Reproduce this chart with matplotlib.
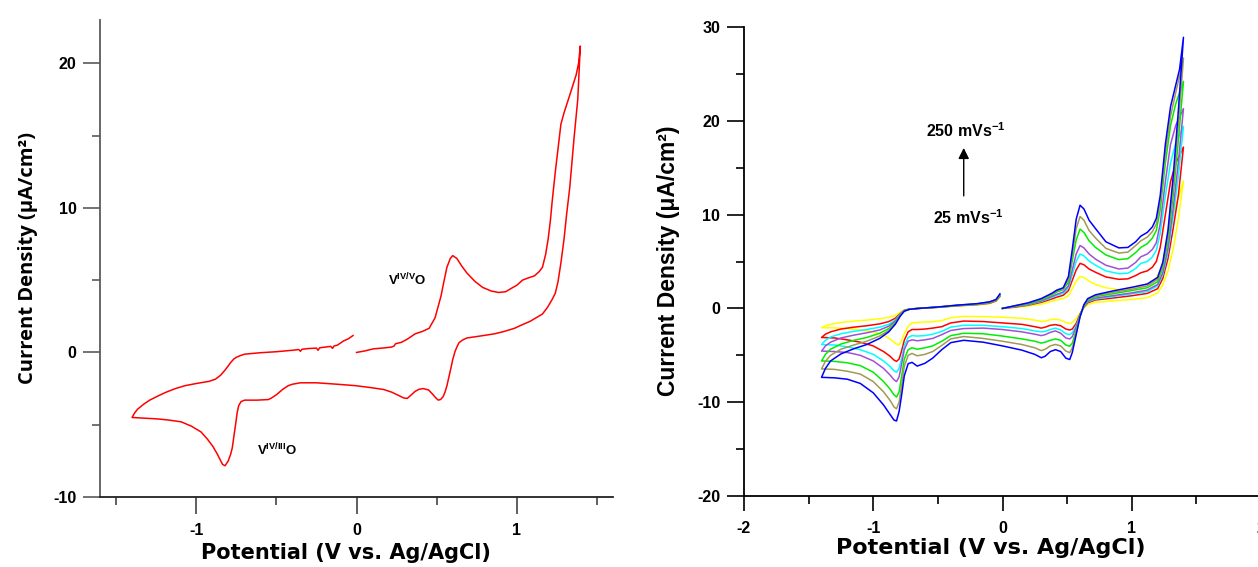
import matplotlib
matplotlib.use('Agg')
import matplotlib.pyplot as plt

plt.rcParams['mathtext.fontset'] = 'custom'
plt.rcParams['mathtext.bf'] = 'Liberation Sans:bold'
plt.rcParams['mathtext.rm'] = 'Liberation Sans'
plt.rcParams['mathtext.it'] = 'Liberation Sans:italic'
plt.rcParams['axes.unicode_minus'] = False

# ---------------- Left panel data (single CV, red) ----------------
left_v = [0.0, 0.05, 0.106, 0.16, 0.218, 0.235, 0.243, 0.28, 0.317, 0.366, 0.41, 0.453, 0.49, 0.51, 0.527,
          0.545, 0.564, 0.585, 0.6, 0.626, 0.655, 0.688, 0.74, 0.787, 0.84, 0.886, 0.93, 0.96, 1.0, 1.035,
          1.07, 1.11, 1.14, 1.16, 1.18, 1.196, 1.21, 1.22, 1.24, 1.26, 1.275, 1.295, 1.33, 1.37, 1.385, 1.396,
          1.38, 1.357, 1.33, 1.31, 1.295, 1.275, 1.257, 1.24, 1.22, 1.19, 1.16, 1.12, 1.084, 1.03, 0.985,
          0.92, 0.861, 0.78, 0.688, 0.66, 0.639, 0.625, 0.614, 0.6, 0.589, 0.576, 0.564, 0.552, 0.54, 0.525,
          0.51, 0.495, 0.478, 0.45, 0.416, 0.39, 0.366, 0.34, 0.317, 0.295, 0.267, 0.22, 0.168, 0.08, -0.005,
          -0.12, -0.25, -0.35, -0.4, -0.426, -0.46, -0.5, -0.53, -0.55, -0.62, -0.698, -0.72, -0.735, -0.745,
          -0.752, -0.765, -0.775, -0.785, -0.8, -0.82, -0.835, -0.847, -0.87, -0.896, -0.93, -0.97, -1.03,
          -1.094, -1.17, -1.24, -1.32, -1.4,
          -1.385, -1.366, -1.33, -1.29, -1.24, -1.19, -1.13, -1.07, -1.0, -0.92, -0.88, -0.847, -0.815, -0.785,
          -0.765, -0.747, -0.72, -0.698, -0.6, -0.5, -0.4, -0.36, -0.35, -0.34, -0.3, -0.25, -0.24, -0.23,
          -0.16, -0.15, -0.14, -0.12, -0.08, -0.05, -0.022]
left_i = [0.0, 0.1, 0.25, 0.3, 0.37, 0.45, 0.6, 0.7, 0.92, 1.29, 1.45, 1.67, 2.4, 3.2, 3.9,
          4.9, 5.9, 6.5, 6.7, 6.5, 6.0, 5.5, 4.9, 4.5, 4.25, 4.15, 4.2, 4.4, 4.65, 5.0,
          5.15, 5.3, 5.6, 5.9, 6.8, 7.9, 9.2, 10.4, 12.5, 14.35, 15.8, 16.6, 17.8, 19.2, 20.0, 21.2,
          17.5, 14.85, 11.4, 9.5, 7.9, 6.2, 4.9, 4.1, 3.66, 3.1, 2.66, 2.4, 2.16, 1.9, 1.67,
          1.45, 1.29, 1.15, 1.0, 0.85, 0.67, 0.35, 0.05, -0.5, -1.07, -1.7, -2.3, -2.75, -3.06, -3.25,
          -3.3, -3.15, -2.93, -2.6, -2.5, -2.55, -2.69, -2.95, -3.18, -3.15, -3.0, -2.75, -2.56, -2.42, -2.3,
          -2.2, -2.1, -2.1, -2.2, -2.3, -2.55, -2.93, -3.15, -3.26, -3.3, -3.3, -3.4, -3.68, -4.2,
          -4.8, -5.8, -6.6, -7.04, -7.5, -7.84, -7.75, -7.5, -7.0, -6.5, -6.0, -5.5, -5.1,
          -4.8, -4.68, -4.6, -4.55, -4.5,
          -4.2, -3.93, -3.6, -3.3, -3.02, -2.76, -2.5, -2.3, -2.15, -2.0, -1.85, -1.57, -1.15, -0.7,
          -0.45, -0.32, -0.2, -0.12, -0.02, 0.05, 0.15, 0.2, 0.08, 0.22, 0.27, 0.3, 0.15, 0.32,
          0.42, 0.28, 0.45, 0.5, 0.8, 0.95, 1.17]

# ---------------- Right panel data (scan-rate series) ----------------
fwd_v = [0.0, 0.1, 0.2, 0.3, 0.38, 0.42, 0.47, 0.51, 0.54, 0.57, 0.6, 0.63, 0.67, 0.72, 0.8, 0.9,
         0.97, 1.03, 1.07, 1.12, 1.16, 1.19, 1.22, 1.26, 1.3, 1.34, 1.37, 1.4]
rev_v = [1.4, 1.36, 1.32, 1.28, 1.24, 1.2, 1.12, 1.0, 0.85, 0.72, 0.66, 0.63, 0.6, 0.57, 0.54, 0.52,
         0.49, 0.45, 0.41, 0.37, 0.33, 0.3, 0.25, 0.15, 0.0, -0.15, -0.3, -0.4, -0.47, -0.54, -0.6,
         -0.66, -0.7, -0.73, -0.76, -0.78, -0.8, -0.82, -0.84, -0.87, -0.92, -1.0, -1.1, -1.2, -1.3, -1.4]
ret_v = [-1.4, -1.37, -1.33, -1.25, -1.15, -1.05, -0.95, -0.88, -0.83, -0.79, -0.76, -0.72, -0.65,
         -0.5, -0.35, -0.2, -0.1, -0.05, -0.02]

yellow_fwd = [0.0, 0.1, 0.25, 0.45, 0.75, 0.9, 1.05, 1.35, 2.1, 2.9, 3.4, 3.3, 2.9, 2.55, 2.2, 2.0,
              2.05, 2.25, 2.4, 2.6, 2.9, 3.3, 4.0, 5.8, 8.5, 11.0, 12.3, 13.6]
red_fwd = [0.0, 0.15, 0.35, 0.65, 1.0, 1.2, 1.4, 1.9, 3.0, 4.1, 4.8, 4.65, 4.2, 3.85, 3.35, 3.1,
           3.15, 3.5, 3.8, 4.0, 4.4, 5.0, 6.5, 10.0, 13.5, 15.5, 16.3, 17.2]
cyan_fwd = [0.0, 0.2, 0.4, 0.75, 1.15, 1.4, 1.6, 2.2, 3.6, 5.0, 5.8, 5.6, 5.05, 4.6, 4.0, 3.7,
            3.75, 4.25, 4.8, 5.0, 5.5, 6.2, 8.0, 12.0, 15.5, 17.6, 18.5, 19.4]
purple_fwd = [0.0, 0.2, 0.45, 0.8, 1.25, 1.5, 1.75, 2.4, 4.1, 5.8, 6.7, 6.45, 5.8, 5.25, 4.6, 4.2,
              4.3, 4.9, 5.5, 5.8, 6.3, 7.0, 9.0, 13.5, 17.5, 19.5, 20.4, 21.3]
green_fwd = [0.0, 0.25, 0.5, 0.9, 1.4, 1.75, 2.0, 2.8, 5.1, 7.3, 8.45, 8.1, 7.2, 6.5, 5.7, 5.2,
             5.3, 5.95, 6.5, 6.9, 7.5, 8.3, 10.5, 15.5, 19.5, 21.8, 23.0, 24.2]
olive_fwd = [0.0, 0.28, 0.55, 1.0, 1.5, 1.9, 2.1, 3.1, 5.7, 8.5, 9.8, 9.4, 8.3, 7.5, 6.4, 5.9,
             6.0, 6.7, 7.2, 7.6, 8.2, 9.0, 11.3, 16.5, 20.5, 23.0, 24.8, 26.7]
blue_fwd = [0.0, 0.3, 0.6, 1.05, 1.6, 1.95, 2.2, 3.4, 6.3, 9.5, 11.0, 10.6, 9.4, 8.5, 7.1, 6.45,
            6.5, 7.1, 7.7, 8.1, 8.7, 9.6, 12.0, 17.5, 21.5, 23.8, 25.5, 28.9]

yellow_rev = [13.6, 9.5, 6.3, 4.0, 2.5, 1.65, 1.15, 0.95, 0.8, 0.65, 0.4, 0.05, -0.5, -1.1, -1.5, -1.62,
              -1.5, -1.25, -1.15, -1.2, -1.35, -1.4, -1.25, -1.05, -0.95, -0.88, -0.85, -1.0, -1.3, -1.42,
              -1.45, -1.5, -1.55, -1.9, -2.7, -3.4, -3.9, -3.8, -3.6, -3.25, -2.85, -2.5, -2.3, -2.15,
              -2.08, -2.05]
red_rev = [17.2, 12.0, 8.5, 5.3, 3.2, 2.1, 1.6, 1.35, 1.1, 0.9, 0.6, 0.15, -0.6, -1.6, -2.2, -2.3,
           -2.2, -1.85, -1.73, -1.8, -2.0, -2.1, -1.95, -1.7, -1.55, -1.4, -1.35, -1.55, -1.95, -2.1,
           -2.2, -2.25, -2.25, -2.5, -3.4, -4.5, -5.4, -5.65, -5.5, -5.1, -4.6, -4.0, -3.6, -3.35,
           -3.15, -3.1]
cyan_rev = [19.4, 14.0, 9.8, 6.0, 3.6, 2.4, 1.8, 1.55, 1.25, 1.0, 0.7, 0.2, -0.7, -1.85, -2.6, -2.8,
            -2.7, -2.3, -2.1, -2.25, -2.45, -2.5, -2.4, -2.15, -1.95, -1.8, -1.8, -2.0, -2.45, -2.75,
            -2.9, -2.95, -2.9, -3.1, -4.0, -5.3, -6.4, -6.8, -6.65, -6.2, -5.6, -4.9, -4.4, -4.1,
            -3.9, -3.85]
purple_rev = [21.3, 15.5, 10.6, 6.4, 3.8, 2.55, 1.95, 1.65, 1.35, 1.1, 0.75, 0.25, -0.75, -2.0, -3.0,
              -3.26, -3.15, -2.65, -2.4, -2.55, -2.8, -2.9, -2.75, -2.5, -2.25, -2.1, -2.15, -2.35,
              -2.8, -3.2, -3.35, -3.45, -3.35, -3.5, -4.4, -5.9, -7.3, -7.8, -7.6, -7.1, -6.4, -5.6,
              -5.0, -4.7, -4.6, -4.55]
green_rev = [24.2, 17.8, 12.0, 7.2, 4.3, 2.85, 2.2, 1.9, 1.55, 1.25, 0.85, 0.3, -0.8, -2.35, -3.7,
             -4.03, -3.9, -3.4, -3.26, -3.4, -3.6, -3.7, -3.5, -3.25, -2.95, -2.7, -2.65, -2.9, -3.5,
             -4.0, -4.2, -4.35, -4.2, -4.4, -5.4, -7.2, -8.9, -9.45, -9.2, -8.6, -7.8, -6.8, -6.1,
             -5.8, -5.65, -5.6]
olive_rev = [26.7, 19.5, 13.0, 7.8, 4.6, 3.1, 2.4, 2.05, 1.7, 1.35, 0.95, 0.35, -0.85, -2.55, -4.2,
             -4.72, -4.55, -4.0, -3.84, -4.0, -4.35, -4.5, -4.2, -3.85, -3.5, -3.2, -3.0, -3.25, -3.95,
             -4.6, -4.9, -5.05, -4.8, -5.0, -6.2, -8.2, -10.0, -10.7, -10.5, -9.8, -8.9, -7.8, -7.0,
             -6.7, -6.5, -6.45]
blue_rev = [28.9, 21.0, 14.0, 8.3, 4.9, 3.3, 2.6, 2.25, 1.85, 1.45, 1.05, 0.4, -0.9, -2.8, -4.7,
            -5.45, -5.3, -4.6, -4.4, -4.6, -5.1, -5.26, -4.9, -4.45, -4.0, -3.6, -3.4, -3.65, -4.4,
            -5.3, -5.85, -6.15, -5.75, -5.9, -7.2, -9.2, -11.0, -12.0, -11.9, -11.3, -10.3, -9.0,
            -8.0, -7.55, -7.4, -7.35]

yellow_ret = [-2.05, -1.85, -1.7, -1.5, -1.35, -1.25, -1.1, -0.95, -0.75, -0.4, -0.15, -0.05, 0.0,
              0.1, 0.25, 0.35, 0.5, 0.75, 1.2]
red_ret = [-3.1, -2.75, -2.5, -2.2, -2.0, -1.85, -1.65, -1.4, -1.05, -0.55, -0.2, -0.07, 0.0,
           0.12, 0.28, 0.4, 0.55, 0.8, 1.3]
cyan_ret = [-3.85, -3.4, -3.05, -2.7, -2.45, -2.25, -2.0, -1.7, -1.25, -0.6, -0.22, -0.08, 0.0,
            0.12, 0.3, 0.42, 0.6, 0.85, 1.35]
purple_ret = [-4.55, -4.0, -3.6, -3.15, -2.85, -2.6, -2.3, -1.9, -1.35, -0.65, -0.24, -0.08, 0.0,
              0.13, 0.3, 0.45, 0.62, 0.88, 1.4]
green_ret = [-5.6, -4.9, -4.35, -3.8, -3.4, -3.1, -2.65, -2.15, -1.5, -0.7, -0.27, -0.09, 0.0,
             0.14, 0.32, 0.47, 0.65, 0.9, 1.45]
olive_ret = [-6.45, -5.65, -5.0, -4.35, -3.9, -3.5, -2.95, -2.35, -1.6, -0.75, -0.28, -0.1, 0.0,
             0.15, 0.34, 0.48, 0.68, 0.92, 1.5]
blue_ret = [-7.35, -6.4, -5.6, -4.85, -4.3, -3.85, -3.2, -2.5, -1.7, -0.8, -0.3, -0.1, 0.0,
            0.15, 0.35, 0.5, 0.7, 0.95, 1.55]

series_names = ['25', '50', '75', '100', '150', '200', '250']
series_colors = ['#ffff00', '#ff0000', '#00ffff', '#a050d8', '#00ee00', '#a09a55', '#0000ff']
series = [(yellow_fwd, yellow_rev, yellow_ret), (red_fwd, red_rev, red_ret),
          (cyan_fwd, cyan_rev, cyan_ret), (purple_fwd, purple_rev, purple_ret),
          (green_fwd, green_rev, green_ret), (olive_fwd, olive_rev, olive_ret),
          (blue_fwd, blue_rev, blue_ret)]

# ---------------- Figure ----------------
fig = plt.figure(figsize=(12.58, 5.67), dpi=100)
axL = fig.add_axes([0.0795, 0.1235, 0.4078, 0.8412])
axR = fig.add_axes([0.5914, 0.1252, 0.4110, 0.8272])

tick_font = dict(family='Liberation Sans', weight='bold', size=11.5)

# Left panel
axL.plot(left_v, left_i, color='#ff0000', lw=1.1)
axL.set_xlim(-1.6, 1.6)
axL.set_ylim(-10, 23)
axL.set_xticks([-1, 0, 1])
axL.set_xticks([-1.5, -0.5, 0.5, 1.5], minor=True)
axL.set_yticks([-10, 0, 10, 20])
axL.set_yticks([-5, 5, 15], minor=True)
for s in ['top', 'right']:
    axL.spines[s].set_visible(False)
axL.spines['left'].set_color('#5a5a5a')
axL.spines['bottom'].set_color('#222222')
axL.spines['left'].set_linewidth(1.3)
axL.spines['bottom'].set_linewidth(1.3)
axL.tick_params(axis='y', which='major', direction='out', length=12, width=1.2, color='#5a5a5a', pad=5)
axL.tick_params(axis='y', which='minor', direction='out', length=6, width=1.2, color='#5a5a5a')
axL.tick_params(axis='x', which='major', direction='out', length=12, width=1.2, color='#444444', pad=7)
axL.tick_params(axis='x', which='minor', direction='out', length=6, width=1.2, color='#444444')
for lab in axL.get_xticklabels() + axL.get_yticklabels():
    lab.set_fontproperties(tick_font)
axL.text(0.195, 5.0, r'$\mathbf{V^{IV/V}O}$', fontsize=9.5, va='center', ha='left')
axL.text(-0.62, -6.76, r'$\mathbf{V^{IV/III}O}$', fontsize=9.5, va='center', ha='left')

# Right panel
for (fw, rv, rt), c in zip(series, series_colors):
    axR.plot(fwd_v + rev_v + ret_v, fw + rv + rt, color=c, lw=1.1)
axR.set_xlim(-2, 2)
axR.set_ylim(-20, 30)
axR.set_xticks([-2, -1, 0, 1, 2])
axR.set_xticks([-1.5, -0.5, 0.5, 1.5], minor=True)
axR.set_yticks([-20, -10, 0, 10, 20, 30])
axR.set_yticks([-15, -5, 5, 15, 25], minor=True)
for s in ['top', 'right']:
    axR.spines[s].set_visible(False)
axR.spines['left'].set_linewidth(1.3)
axR.spines['bottom'].set_linewidth(1.3)
axR.tick_params(axis='y', which='major', direction='out', length=12, width=1.2, pad=5)
axR.tick_params(axis='y', which='minor', direction='out', length=6, width=1.2)
axR.tick_params(axis='x', which='major', direction='out', length=11, width=1.2, pad=7)
axR.tick_params(axis='x', which='minor', direction='out', length=6, width=1.2)
for lab in axR.get_xticklabels() + axR.get_yticklabels():
    lab.set_fontproperties(tick_font)
axR.annotate('', xy=(-0.30, 17.4), xytext=(-0.30, 11.7),
             arrowprops=dict(arrowstyle='-|>', color='black', lw=1.0, mutation_scale=16))
axR.text(-0.595, 18.9, r'$\mathbf{250\ mVs^{-1}}$', fontsize=11.5, va='center', ha='left')
axR.text(-0.54, 9.65, r'$\mathbf{25\ mVs^{-1}}$', fontsize=11.5, va='center', ha='left')

# Axis titles
fig.text(28 / 1258, 1 - 258 / 567, 'Current Density (μA/cm²)', rotation=90, ha='center', va='center',
         family='Open Sans', weight='bold', fontsize=14.5)
fig.text(668 / 1258, 1 - 261 / 567, 'Current Density (μA/cm²)', rotation=90, ha='center', va='center',
         family='Liberation Sans', weight='bold', fontsize=16.5)
fig.text(346 / 1258, 1 - 553 / 567, 'Potential (V vs. Ag/AgCl)', ha='center', va='center',
         family='DejaVu Sans', weight='bold', fontsize=15)
fig.text(991 / 1258, 1 - 548 / 567, 'Potential (V vs. Ag/AgCl)', ha='center', va='center',
         family='DejaVu Sans', weight='bold', fontsize=16)

fig.savefig('out.png', dpi=100)
